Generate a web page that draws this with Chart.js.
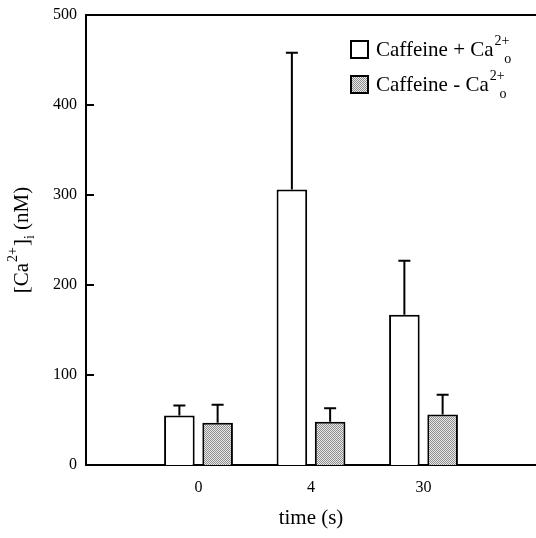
<!DOCTYPE html>
<html>
<head>
<meta charset="utf-8">
<script src="https://cdn.jsdelivr.net/npm/chart.js@4.4.1/dist/chart.umd.min.js"></script>
<style>
  body { margin: 0; background: #fff; }
  canvas { display: block; }
</style>
</head>
<body>
<canvas id="caChart" width="536" height="538"></canvas>
<script>
const timeLabels = ['', '0', '4', '30', ''];
const caffeinePlusCa = [null, 55, 306, 167, null];
const caffeinePlusCaErr = [null, 11, 152, 60, null];
const caffeineMinusCa = [null, 47, 48, 56, null];
const caffeineMinusCaErr = [null, 20, 15, 22, null];
const yTicks = [0, 100, 200, 300, 400, 500];

const serif = "'Liberation Serif', 'Times New Roman', serif";

function makeStipple() { //small dotted texture like the printed grey
    const c = document.createElement('canvas');
    c.width = 2;
    c.height = 2;
    const g = c.getContext('2d');
    g.fillStyle = '#eaeaea';
    g.fillRect(0, 0, 2, 2);
    g.fillStyle = '#8c8c8c';
    g.fillRect(0, 0, 1, 1);
    g.fillRect(1, 1, 1, 1);
    return g.createPattern(c, 'repeat');
}
const stipple = makeStipple();

// text with a superscript and a subscript, e.g. Ca^{2+}_{o}
function drawRich(ctx, parts, x, y, size) {
    let cx = x;
    parts.forEach(p => {
        if (p.sup) {
            ctx.font = Math.round(size * 0.68) + 'px ' + serif;
            ctx.fillText(p.sup, cx + 1, y - size * 0.52);
            const w = ctx.measureText(p.sup).width;
            if (p.sub) {
                ctx.fillText(p.sub, cx + w * 0.72, y + size * 0.33);
            }
            cx += w + 2;
        } else if (p.sub) {
            ctx.font = Math.round(size * 0.68) + 'px ' + serif;
            ctx.fillText(p.sub, cx, y + size * 0.3);
            cx += ctx.measureText(p.sub).width;
        } else {
            ctx.font = size + 'px ' + serif;
            ctx.fillText(p.text, cx, y);
            cx += ctx.measureText(p.text).width;
        }
    });
    return cx - x;
}

function noEdgePadding(scale) {
    scale.paddingTop = 0;
    scale.paddingBottom = 0;
    scale.paddingLeft = 0;
    scale.paddingRight = 0;
}

const extras = {
    id: 'extras',
    afterDatasetsDraw(chart) {
        const ctx = chart.ctx;
        const area = chart.chartArea;
        const yScale = chart.scales.y;
        const errs = [caffeinePlusCaErr, caffeineMinusCaErr];
        ctx.save();
        ctx.strokeStyle = '#000';
        ctx.lineWidth = 2;
        // error bars, upper half only
        chart.data.datasets.forEach((ds, di) => {
            const meta = chart.getDatasetMeta(di);
            meta.data.forEach((bar, i) => {
                if (ds.data[i] == null || errs[di][i] == null) return;
                const yTop = yScale.getPixelForValue(ds.data[i] + errs[di][i]);
                ctx.beginPath();
                ctx.moveTo(bar.x, bar.y);
                ctx.lineTo(bar.x, yTop);
                ctx.moveTo(bar.x - 6, yTop);
                ctx.lineTo(bar.x + 6, yTop);
                ctx.stroke();
            });
        });
        // top frame line
        ctx.beginPath();
        ctx.moveTo(area.left, area.top);
        ctx.lineTo(area.right, area.top);
        ctx.stroke();
        // inward y ticks
        yTicks.forEach(v => {
            const py = yScale.getPixelForValue(v);
            ctx.beginPath();
            ctx.moveTo(area.left, py);
            ctx.lineTo(area.left + 8, py);
            ctx.stroke();
        });

        // legend
        ctx.fillStyle = '#000';
        ctx.textBaseline = 'alphabetic';
        ctx.textAlign = 'left';
        const rows = [
            { fill: '#fff', sign: 'Caffeine + Ca', y: 56 },
            { fill: stipple, sign: 'Caffeine - Ca', y: 91 }
        ];
        rows.forEach(r => {
            ctx.fillStyle = r.fill;
            ctx.fillRect(351, r.y - 15, 17, 17);
            ctx.strokeRect(351, r.y - 15, 17, 17);
            ctx.fillStyle = '#000';
            drawRich(ctx, [{ text: r.sign }, { sup: '2+', sub: 'o' }], 376, r.y, 21);
        });

        // y axis title, rotated
        ctx.save();
        ctx.translate(28, 240);
        ctx.rotate(-Math.PI / 2);
        const parts = [{ text: '[Ca' }, { sup: '2+' }, { text: ']' }, { sub: 'i' }, { text: ' (nM)' }];
        const probe = document.createElement('canvas').getContext('2d');
        const w = drawRich(probe, parts, 0, 0, 21);
        drawRich(ctx, parts, -w / 2, 0, 21);
        ctx.restore();
        ctx.restore();
    }
};

function createCaChart() {
    const ctx = document.getElementById('caChart').getContext('2d');
    new Chart(ctx, {
        type: 'bar',
        data: {
            labels: timeLabels,
            datasets: [{
                label: 'Caffeine + Ca2+o',
                data: caffeinePlusCa,
                backgroundColor: '#fff',
                borderColor: '#000',
                borderWidth: 2,
                categoryPercentage: 0.68,
                barPercentage: 0.8
            }, {
                label: 'Caffeine - Ca2+o',
                data: caffeineMinusCa,
                backgroundColor: stipple,
                borderColor: '#000',
                borderWidth: 2,
                categoryPercentage: 0.68,
                barPercentage: 0.8
            }]
        },
        options: {
            responsive: false,
            animation: false,
            layout: { padding: { top: 15, right: 0, left: 0, bottom: 0 } },
            plugins: {
                legend: { display: false },
                tooltip: { enabled: false }
            },
            scales: {
                x: {
                    offset: false,
                    grid: { display: false, drawTicks: false },
                    border: { display: true, color: '#000', width: 2 },
                    ticks: {
                        color: '#000',
                        padding: 13,
                        maxRotation: 0,
                        font: { family: serif, size: 16 }
                    },
                    title: {
                        display: true,
                        text: 'time (s)',
                        color: '#000',
                        font: { family: serif, size: 21 },
                        padding: { top: 0, bottom: 7 }
                    },
                    afterFit(scale) {
                        scale.height = 73;
                        noEdgePadding(scale);
                    }
                },
                y: {
                    min: 0,
                    max: 500,
                    afterBuildTicks(scale) { scale.ticks = yTicks.map(v => ({ value: v })); },
                    grid: { display: false, drawTicks: false },
                    border: { display: true, color: '#000', width: 2 },
                    ticks: {
                        color: '#000',
                        padding: 9,
                        font: { family: serif, size: 16 }
                    },
                    afterFit(scale) {
                        scale.width = 86;
                        noEdgePadding(scale);
                    }
                }
            }
        },
        plugins: [extras]
    });
}

document.addEventListener('DOMContentLoaded', function () {
    createCaChart();
});
</script>
</body>
</html>
